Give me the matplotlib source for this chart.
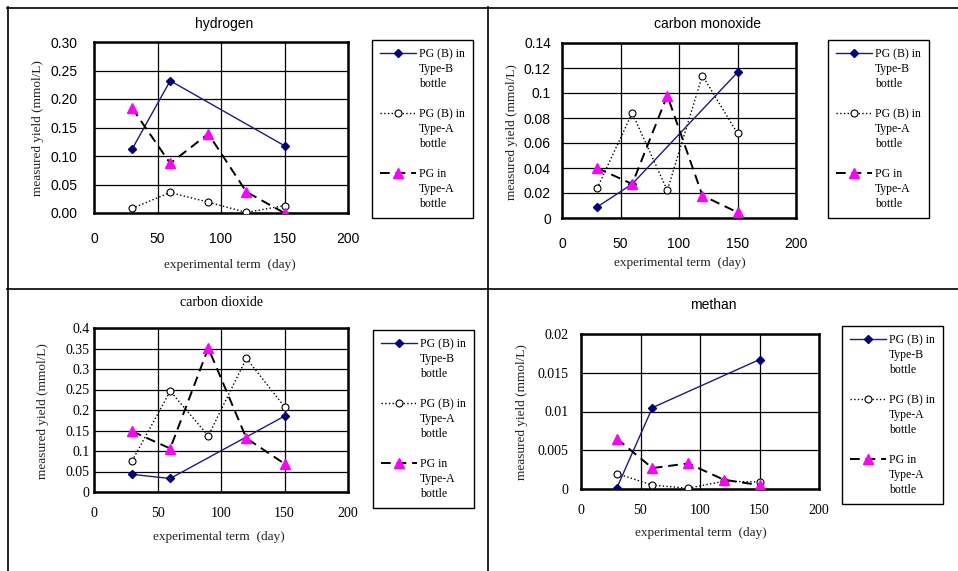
import matplotlib
matplotlib.use("Agg")
import matplotlib.pyplot as plt
from matplotlib.lines import Line2D
from matplotlib.font_manager import FontProperties

W, H = 958, 571

# ---------------- data ----------------
days = [30, 60, 90, 120, 150]
days_b = [30, 60, 150]

h2_b = [0.112, 0.232, 0.118]
h2_a = [0.008, 0.036, 0.019, 0.001, 0.013]
h2_pg = [0.184, 0.087, 0.139, 0.037, 0.0]

co_b = [0.0088, 0.0272, 0.1165]
co_a = [0.0237, 0.084, 0.0221, 0.114, 0.0677]
co_pg = [0.040, 0.0272, 0.098, 0.018, 0.0045]

co2_b = [0.043, 0.033, 0.185]
co2_a = [0.076, 0.246, 0.137, 0.326, 0.208]
co2_pg = [0.148, 0.106, 0.351, 0.131, 0.069]

ch4_b = [0.0001, 0.0105, 0.0167]
ch4_a = [0.0020, 0.0005, 0.0001, 0.0010, 0.0009]
ch4_pg = [0.0065, 0.0027, 0.0033, 0.0012, 0.0005]

titles = ["hydrogen", "carbon monoxide", "carbon dioxide", "methan"]
series_labels = [["PG (B) in", "Type-B", "bottle"],
                 ["PG (B) in", "Type-A", "bottle"],
                 ["PG in", "Type-A", "bottle"]]
x_ticks = [0, 50, 100, 150, 200]
y_ticks_h2 = [0.00, 0.05, 0.10, 0.15, 0.20, 0.25, 0.30]
y_labels_h2 = ["0.00", "0.05", "0.10", "0.15", "0.20", "0.25", "0.30"]
y_ticks_co = [0, 0.02, 0.04, 0.06, 0.08, 0.10, 0.12, 0.14]
y_labels_co = ["0", "0.02", "0.04", "0.06", "0.08", "0.1", "0.12", "0.14"]
y_ticks_co2 = [0, 0.05, 0.10, 0.15, 0.20, 0.25, 0.30, 0.35, 0.40]
y_labels_co2 = ["0", "0.05", "0.1", "0.15", "0.2", "0.25", "0.3", "0.35", "0.4"]
y_ticks_ch4 = [0, 0.005, 0.010, 0.015, 0.020]
y_labels_ch4 = ["0", "0.005", "0.01", "0.015", "0.02"]
x_label = "experimental term  (day)"
y_label = "measured yield (mmol/L)"

SANS = "Liberation Sans"
SERIF = "Liberation Serif"

fig = plt.figure(figsize=(W / 100, H / 100), dpi=100)


def rect(x0, y0, x1, y1):
    return [x0 / W, 1 - y1 / H, (x1 - x0) / W, (y1 - y0) / H]


panels = [
    dict(data=(h2_b, h2_a, h2_pg), ax=(94, 42, 348, 213), ylim=0.30,
         yt=y_ticks_h2, yl=y_labels_h2, tickfont=SANS, titlefont=SANS,
         title_xy=(224, 24), xlab_xy=(230, 265), ylab_xy=(38, 128),
         xpad=14, ypad=12, leg=(372, 40), title=titles[0]),
    dict(data=(co_b, co_a, co_pg), ax=(562, 43, 796, 218), ylim=0.14,
         yt=y_ticks_co, yl=y_labels_co, tickfont=SANS, titlefont=SANS,
         title_xy=(707, 24), xlab_xy=(680, 263), ylab_xy=(512, 132),
         xpad=14, ypad=8, leg=(828, 40), title=titles[1]),
    dict(data=(co2_b, co2_a, co2_pg), ax=(94, 328, 348, 492), ylim=0.40,
         yt=y_ticks_co2, yl=y_labels_co2, tickfont=SERIF, titlefont=SERIF,
         title_xy=(222, 302), xlab_xy=(219, 537), ylab_xy=(43, 411),
         xpad=11, ypad=3, leg=(373, 330), title=titles[2]),
    dict(data=(ch4_b, ch4_a, ch4_pg), ax=(581, 334, 819, 489), ylim=0.02,
         yt=y_ticks_ch4, yl=y_labels_ch4, tickfont=SERIF, titlefont=SANS,
         title_xy=(713, 305), xlab_xy=(701, 533), ylab_xy=(522, 412),
         xpad=11, ypad=9, leg=(842, 326), title=titles[3]),
]

for p in panels:
    ax = fig.add_axes(rect(*p["ax"]))
    yb, ya, ypg = p["data"]
    hb, = ax.plot(days_b, yb, color="#1a1a8c", lw=1.0, marker="D",
                  ms=4.5, mfc="#000080", mec="#000080", zorder=5)
    ha, = ax.plot(days, ya, color="black", lw=1.0, ls=":", marker="o",
                  ms=5, mfc="white", mec="black", mew=0.8, zorder=4)
    hp, = ax.plot(days, ypg, color="black", lw=1.4, ls=(0, (5, 3)),
                  marker="^", ms=7, mfc="#ff00ff", mec="#ff00ff", zorder=6)
    ax.set_xlim(0, 200)
    ax.set_ylim(0, p["ylim"])
    ax.set_xticks(x_ticks)
    ax.set_yticks(p["yt"])
    ax.set_yticklabels(p["yl"])
    ax.tick_params(length=0, labelsize=10)
    ax.tick_params(axis="x", pad=p["xpad"])
    ax.tick_params(axis="y", pad=p["ypad"])
    for lab in ax.get_xticklabels() + ax.get_yticklabels():
        lab.set_fontfamily(p["tickfont"])
    ax.grid(True, color="black", lw=0.9)
    ax.set_axisbelow(True)
    for s in ax.spines.values():
        s.set_linewidth(1.8)
        s.set_color("black")

    tx, ty = p["title_xy"]
    fig.text(tx / W, 1 - ty / H, p["title"], ha="center", va="center",
             fontsize=10, family=p["titlefont"])
    xx, xy = p["xlab_xy"]
    fig.text(xx / W, 1 - xy / H, x_label, ha="center", va="center",
             fontsize=9.5, family=SERIF, color="#222222")
    yx, yy = p["ylab_xy"]
    fig.text(yx / W, 1 - yy / H, y_label, ha="center", va="center",
             fontsize=9.5, family=SERIF, rotation=90, color="#222222")

    blank = Line2D([], [], linestyle="none")
    handles, texts = [], []
    for i, (h, labs) in enumerate(zip([hb, ha, hp], series_labels)):
        for j, t in enumerate(labs):
            handles.append(h if j == 0 else blank)
            texts.append(t)
        if i < 2:
            handles.append(blank)
            texts.append("")
    lx, ly = p["leg"]
    leg = fig.legend(handles, texts, loc="upper left",
                     bbox_to_anchor=(lx / W, 1 - ly / H),
                     bbox_transform=fig.transFigure,
                     prop=FontProperties(family=SERIF, size=8.5),
                     frameon=True, fancybox=False, edgecolor="black",
                     framealpha=1, borderpad=0.7, handlelength=3.0,
                     handletextpad=0.3, labelspacing=0.25, borderaxespad=0)
    leg.get_frame().set_linewidth(1.0)

# panel border lines
def hline(y, x0, x1):
    fig.add_artist(Line2D([x0 / W, x1 / W], [1 - y / H, 1 - y / H],
                          transform=fig.transFigure, color="black", lw=1.2))


def vline(x, y0, y1):
    fig.add_artist(Line2D([x / W, x / W], [1 - y0 / H, 1 - y1 / H],
                          transform=fig.transFigure, color="black", lw=1.2))


hline(7.5, 7, 958)
hline(288.5, 7, 958)
vline(7.5, 7, 571)
vline(488, 7, 571)

fig.savefig("out.png", dpi=100)
